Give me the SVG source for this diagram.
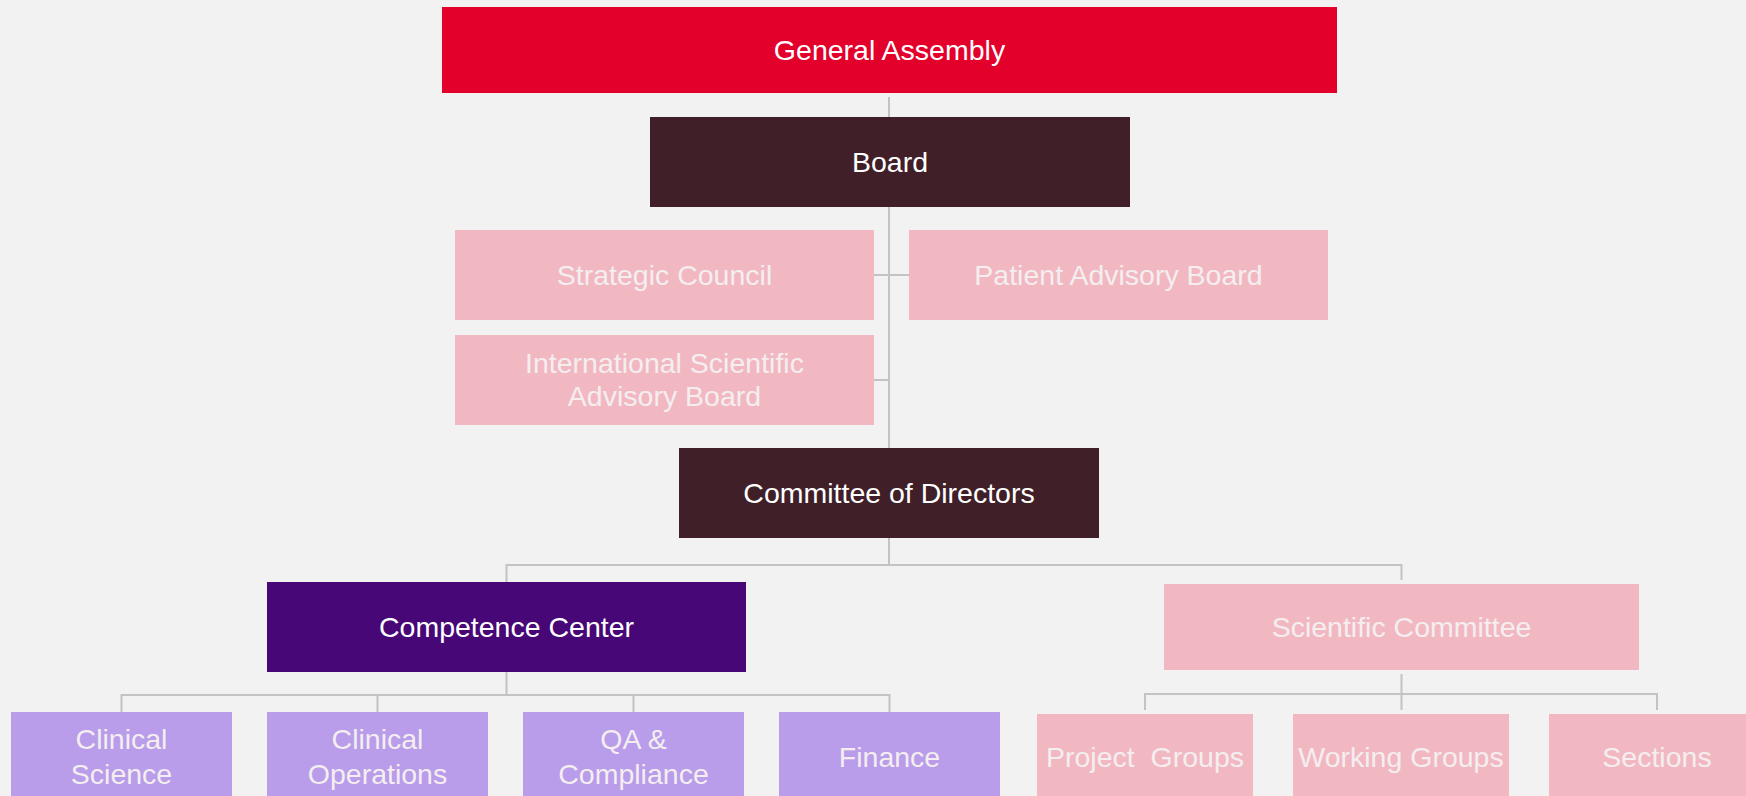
<svg xmlns="http://www.w3.org/2000/svg" width="1746" height="796" viewBox="0 0 1746 796">
  <style>
    text { font-family: "Liberation Sans", Arial, sans-serif; font-size: 28.5px; text-anchor: middle; dominant-baseline: central; }
    .lt { fill: #FFFFFF; }
    .pt { fill: #F4EEF0; }
    .red { fill: #E3002B; }
    .dark { fill: #401F28; }
    .deep { fill: #470777; }
    .pink { fill: #F2B8C2; }
    .lilac { fill: #B99CEA; }
    .conn line { stroke: #C3C3C3; stroke-width: 2; }
  </style>
  <rect x="0" y="0" width="1746" height="796" fill="#F2F2F2"/>

  <g id="connectors" class="conn">
    <line x1="889" y1="97" x2="889" y2="117"/>
    <line x1="889" y1="207" x2="889" y2="448"/>
    <line x1="874" y1="275" x2="909" y2="275"/>
    <line x1="874" y1="380" x2="889" y2="380"/>
    <line x1="889" y1="538" x2="889" y2="565"/>
    <line x1="506.5" y1="565" x2="1401.5" y2="565"/>
    <line x1="506.5" y1="564" x2="506.5" y2="582"/>
    <line x1="1401.5" y1="564" x2="1401.5" y2="580"/>
    <line x1="506.5" y1="672" x2="506.5" y2="695"/>
    <line x1="121.5" y1="695" x2="889.5" y2="695"/>
    <line x1="121.5" y1="694" x2="121.5" y2="712"/>
    <line x1="377.5" y1="694" x2="377.5" y2="712"/>
    <line x1="633.5" y1="694" x2="633.5" y2="712"/>
    <line x1="889.5" y1="694" x2="889.5" y2="712"/>
    <line x1="1401.5" y1="674" x2="1401.5" y2="694"/>
    <line x1="1145" y1="694" x2="1657" y2="694"/>
    <line x1="1145" y1="693" x2="1145" y2="710"/>
    <line x1="1401.5" y1="693" x2="1401.5" y2="710"/>
    <line x1="1657" y1="693" x2="1657" y2="710"/>
  </g>

  <g id="general-assembly">
    <rect class="red" x="442" y="7" width="895" height="86"/>
    <text class="lt" x="889.5" y="50">General Assembly</text>
  </g>
  <g id="board">
    <rect class="dark" x="650" y="117" width="480" height="90"/>
    <text class="lt" x="890" y="162">Board</text>
  </g>
  <g id="strategic-council">
    <rect class="pink" x="455" y="230" width="419" height="90"/>
    <text class="pt" x="664.5" y="275">Strategic Council</text>
  </g>
  <g id="patient-advisory-board">
    <rect class="pink" x="909" y="230" width="419" height="90"/>
    <text class="pt" x="1118.5" y="275">Patient Advisory Board</text>
  </g>
  <g id="international-scientific-advisory-board">
    <rect class="pink" x="455" y="335" width="419" height="90"/>
    <text class="pt" x="664.5" y="363">International Scientific</text>
    <text class="pt" x="664.5" y="396">Advisory Board</text>
  </g>
  <g id="committee-of-directors">
    <rect class="dark" x="679" y="448" width="420" height="90"/>
    <text class="lt" x="889" y="493">Committee of Directors</text>
  </g>
  <g id="competence-center">
    <rect class="deep" x="267" y="582" width="479" height="90"/>
    <text class="lt" x="506.5" y="627">Competence Center</text>
  </g>
  <g id="scientific-committee">
    <rect class="pink" x="1164" y="584" width="475" height="86"/>
    <text class="pt" x="1401.5" y="627">Scientific Committee</text>
  </g>
  <g id="clinical-science">
    <rect class="lilac" x="11" y="712" width="221" height="90"/>
    <text class="pt" x="121.5" y="739">Clinical</text>
    <text class="pt" x="121.5" y="774">Science</text>
  </g>
  <g id="clinical-operations">
    <rect class="lilac" x="267" y="712" width="221" height="90"/>
    <text class="pt" x="377.5" y="739">Clinical</text>
    <text class="pt" x="377.5" y="774">Operations</text>
  </g>
  <g id="qa-compliance">
    <rect class="lilac" x="523" y="712" width="221" height="90"/>
    <text class="pt" x="633.5" y="739">QA &amp;</text>
    <text class="pt" x="633.5" y="774">Compliance</text>
  </g>
  <g id="finance">
    <rect class="lilac" x="779" y="712" width="221" height="90"/>
    <text class="pt" x="889.5" y="757">Finance</text>
  </g>
  <g id="project-groups">
    <rect class="pink" x="1037" y="714" width="216" height="90"/>
    <text class="pt" x="1145" y="757" xml:space="preserve">Project  Groups</text>
  </g>
  <g id="working-groups">
    <rect class="pink" x="1293" y="714" width="216" height="90"/>
    <text class="pt" x="1401" y="757">Working Groups</text>
  </g>
  <g id="sections">
    <rect class="pink" x="1549" y="714" width="216" height="90"/>
    <text class="pt" x="1657" y="757">Sections</text>
  </g>
</svg>
